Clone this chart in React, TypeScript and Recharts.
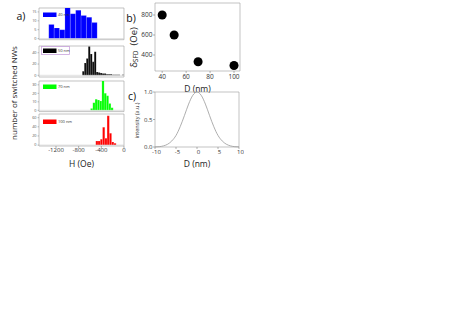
import React from 'react';
import {
  BarChart, Bar, XAxis, YAxis, ReferenceArea, ReferenceLine, Legend,
  ScatterChart, Scatter, ZAxis, LineChart, Line,
} from 'recharts';

const FONT = '"Open Sans", "DejaVu Sans", sans-serif';

// ---------- Panel a: histograms of switching field H (Oe) ----------
const hTicks = [-1200, -800, -400, 0];

const h40Centers = [-1280, -1185, -1090, -995, -900, -805, -710, -615, -520];
const h40Counts = [8, 6, 5, 18, 14, 16, 13, 12, 9];

const h50Centers = [-718, -683, -648, -613, -578, -543, -508, -473, -438, -403, -368,
  -333, -298, -263, -228, -193, -158, -123, -88, -53, -18];
const h50Counts = [7, 22, 30, 51, 38, 24, 42, 6, 5, 4, 3, 3, 2, 2, 2, 1, 1, 1, 1, 0, 1];

const h70Centers = [-570, -530, -490, -450, -410, -370, -330, -290, -250, -210];
const h70Counts = [2, 9, 13, 12, 11, 35, 20, 17, 8, 3];

const h100Centers = [-478, -438, -398, -358, -318, -278, -238, -198, -158];
const h100Counts = [9, 9, 13, 39, 15, 64, 26, 7, 4];

// ---------- Panel b: delta_SFD vs diameter ----------
const bDiam = [40, 50, 70, 100];
const bSfd = [800, 600, 333, 295];
const bXDomain: [number, number] = [34, 105];
const bYDomain: [number, number] = [240, 920];

// ---------- Panel c: diameter distribution ----------
const cD = [-10, -9, -8, -7, -6, -5, -4, -3, -2, -1, 0, 1, 2, 3, 4, 5, 6, 7, 8, 9, 10];
const cI = [0.002, 0.006, 0.02, 0.05, 0.11, 0.21, 0.37, 0.57, 0.78, 0.94, 1.0,
  0.94, 0.78, 0.57, 0.37, 0.21, 0.11, 0.05, 0.02, 0.006, 0.002];
const cXDomain: [number, number] = [-10, 10];
const cYDomain: [number, number] = [0, 1];

const PW = 85; // plot width of histograms
const H_MIN = -1500;
const FRAME = '#9a9a9a';

type HistProps = {
  centers: number[]; counts: number[]; color: string; binWidth: number;
  yDomain: [number, number]; yTicks: number[]; label: string;
  boxTop: number; boxHeight: number; showX?: boolean; legendBorder?: boolean; legendDy: number;
};

function Hist(p: HistProps) {
  const data = p.centers.map((h, i) => ({ h, n: p.counts[i] }));
  const MT = 4;
  const xH = p.showX ? 22 : 0;
  const height = MT + p.boxHeight + xH + 2;
  const binPx = (p.binWidth / -H_MIN) * PW;
  const LegendContent = () => (
    <svg width={32} height={9} style={{ display: 'block' }}>
      {p.legendBorder && (
        <rect x={0.5} y={0.5} width={28} height={8} fill="none" stroke="#c9a3dc" strokeWidth={0.8} />
      )}
      <rect x={2} y={2.5} width={13.5} height={4.5} fill={p.color} />
      <text x={17} y={6.3} fontSize={4} fill="#333" fontFamily={FONT}>{p.label}</text>
    </svg>
  );
  return (
    <div style={{ position: 'absolute', left: 0, top: p.boxTop - MT }}>
      <BarChart
        width={130}
        height={height}
        data={data}
        margin={{ top: MT, right: 6, bottom: 2, left: 0 }}
        barCategoryGap={0}
        barGap={0}
      >
        <XAxis
          dataKey="h"
          type="number"
          domain={[H_MIN, 0]}
          ticks={hTicks}
          interval={0}
          hide={!p.showX}
          height={xH}
          axisLine={false}
          tickSize={2}
          tickMargin={0}
          tickLine={{ stroke: '#666', strokeWidth: 0.5 }}
          tick={{ fontSize: 6, fill: '#333', fontFamily: FONT }}
          label={p.showX ? { value: 'H (Oe)', position: 'insideBottom', offset: 1, fontSize: 8.5, fill: '#222', fontFamily: FONT } : undefined}
        />
        <YAxis
          type="number"
          domain={p.yDomain}
          ticks={p.yTicks}
          interval={0}
          allowDataOverflow
          width={39}
          axisLine={false}
          tickSize={1.5}
          tickMargin={1}
          tickLine={{ stroke: '#666', strokeWidth: 0.4 }}
          tick={{ fontSize: 3.8, fill: '#555', fontFamily: FONT }}
        />
        <ReferenceLine y={0} stroke="#cccccc" strokeWidth={0.6} ifOverflow="visible" />
        <Bar
          dataKey="n"
          fill={p.color}
          barSize={binPx - 0.05}
          stroke="#ffffff"
          strokeOpacity={0.45}
          strokeWidth={0.3}
          isAnimationActive={false}
        />
        <ReferenceArea
          x1={H_MIN} x2={0} y1={p.yDomain[0]} y2={p.yDomain[1]}
          fill="none" fillOpacity={0} stroke={FRAME} strokeWidth={0.6} ifOverflow="visible"
        />
        <Legend
          layout="horizontal"
          verticalAlign="middle"
          align="center"
          wrapperStyle={{ left: 41, top: MT + p.legendDy, width: 'auto', height: 'auto', lineHeight: 0 }}
          content={LegendContent}
        />
      </BarChart>
    </div>
  );
}

export default function App() {
  const bData = bDiam.map((d, i) => ({ d, s: bSfd[i] }));
  const cData = cD.map((d, i) => ({ d, i: cI[i] }));
  return (
    <div style={{ position: 'absolute', left: 0, top: 0, width: 463, height: 328, background: '#fff', overflow: 'hidden', fontFamily: FONT }}>
      <Hist centers={h40Centers} counts={h40Counts} color="#0000ff" binWidth={95}
        yDomain={[-0.6, 17.2]} yTicks={[0, 5, 10, 15]} label="40 nm"
        boxTop={8.3} boxHeight={31.7} legendDy={1.5} />
      <Hist centers={h50Centers} counts={h50Counts} color="#000000" binWidth={35}
        yDomain={[-3, 52]} yTicks={[0, 20, 40]} label="50 nm"
        boxTop={46} boxHeight={31} legendDy={-0.5} legendBorder />
      <Hist centers={h70Centers} counts={h70Counts} color="#00ff00" binWidth={40}
        yDomain={[-1.5, 34.5]} yTicks={[0, 10, 20, 30]} label="70 nm"
        boxTop={80.7} boxHeight={30.6} legendDy={1} />
      <Hist centers={h100Centers} counts={h100Counts} color="#ff0000" binWidth={40}
        yDomain={[-2, 68]} yTicks={[0, 20, 40, 60]} label="100 nm"
        boxTop={114} boxHeight={32} legendDy={2.5} showX />

      {/* Panel b */}
      <div style={{ position: 'absolute', left: 130, top: 0 }}>
        <ScatterChart width={115} height={95} margin={{ top: 3, right: 5, bottom: 0, left: 0 }}>
          <XAxis
            type="number" dataKey="d" domain={bXDomain} ticks={[40, 60, 80, 100]} interval={0}
            height={24} axisLine={false} tickSize={2} tickMargin={1}
            tickLine={{ stroke: '#666', strokeWidth: 0.5 }}
            tick={{ fontSize: 6.5, fill: '#333', fontFamily: FONT }}
            label={{ value: 'D (nm)', position: 'insideBottom', offset: 3, fontSize: 8.5, fill: '#222', fontFamily: FONT }}
          />
          <YAxis
            type="number" dataKey="s" domain={bYDomain} ticks={[400, 600, 800]} interval={0}
            width={25} axisLine={false} tickSize={2} tickMargin={0.5}
            tickLine={{ stroke: '#666', strokeWidth: 0.5 }}
            tick={{ fontSize: 6.5, fill: '#333', fontFamily: FONT }}
          />
          <ZAxis range={[36, 36]} />
          <ReferenceArea
            x1={bXDomain[0]} x2={bXDomain[1]} y1={bYDomain[0]} y2={bYDomain[1]}
            fill="none" fillOpacity={0} stroke={FRAME} strokeWidth={0.6} ifOverflow="visible"
          />
          <Scatter data={bData} fill="#000000" isAnimationActive={false} />
        </ScatterChart>
      </div>

      {/* Panel c */}
      <div style={{ position: 'absolute', left: 130, top: 88 }}>
        <LineChart width={114} height={84} data={cData} margin={{ top: 4, right: 5, bottom: 0, left: 0 }}>
          <XAxis
            type="number" dataKey="d" domain={cXDomain} ticks={[-10, -5, 0, 5, 10]} interval={0}
            height={25} axisLine={false} tickSize={2} tickMargin={0.5}
            tickLine={{ stroke: '#666', strokeWidth: 0.5 }}
            tick={{ fontSize: 6, fill: '#333', fontFamily: FONT, dx: 1.5 }}
            label={{ value: 'D (nm)', position: 'insideBottom', offset: 5, fontSize: 8.5, fill: '#222', fontFamily: FONT }}
          />
          <YAxis
            type="number" domain={cYDomain} ticks={[0, 0.5, 1]} interval={0}
            tickFormatter={(v: number) => v.toFixed(1)}
            width={25} axisLine={false} tickSize={2} tickMargin={0.5}
            tickLine={{ stroke: '#666', strokeWidth: 0.5 }}
            tick={{ fontSize: 6, fill: '#333', fontFamily: FONT }}
          />
          <ReferenceArea
            x1={cXDomain[0]} x2={cXDomain[1]} y1={cYDomain[0]} y2={cYDomain[1]}
            fill="none" fillOpacity={0} stroke={FRAME} strokeWidth={0.6} ifOverflow="visible"
          />
          <Line dataKey="i" type="monotone" stroke="#999999" strokeWidth={0.8} dot={false} isAnimationActive={false} />
        </LineChart>
      </div>

      {/* Panel letters and shared axis titles */}
      <svg width={463} height={328} style={{ position: 'absolute', left: 0, top: 0, pointerEvents: 'none' }} fontFamily={FONT}>
        <text x={21} y={16} fontSize={10.5} textAnchor="middle" dominantBaseline="central" fill="#111">a)</text>
        <text x={131} y={17.5} fontSize={10.5} textAnchor="middle" dominantBaseline="central" fill="#111">b)</text>
        <text x={132} y={96} fontSize={10.5} textAnchor="middle" dominantBaseline="central" fill="#111">c)</text>
        <text transform="translate(13,93) rotate(-90)" fontSize={8} textAnchor="middle" dominantBaseline="central" fill="#222">
          number of switched NWs
        </text>
        <text transform="translate(133,47.5) rotate(-90)" fontSize={9.5} textAnchor="middle" dominantBaseline="central" fill="#222">
          δ<tspan fontSize={6.5} dy={2}>SFD</tspan><tspan dy={-2} dx={5}>(Oe)</tspan>
        </text>
        <text transform="translate(136.5,120.5) rotate(-90)" fontSize={5.5} textAnchor="middle" dominantBaseline="central" fill="#333">
          intensity (a.u.)
        </text>
      </svg>
    </div>
  );
}
